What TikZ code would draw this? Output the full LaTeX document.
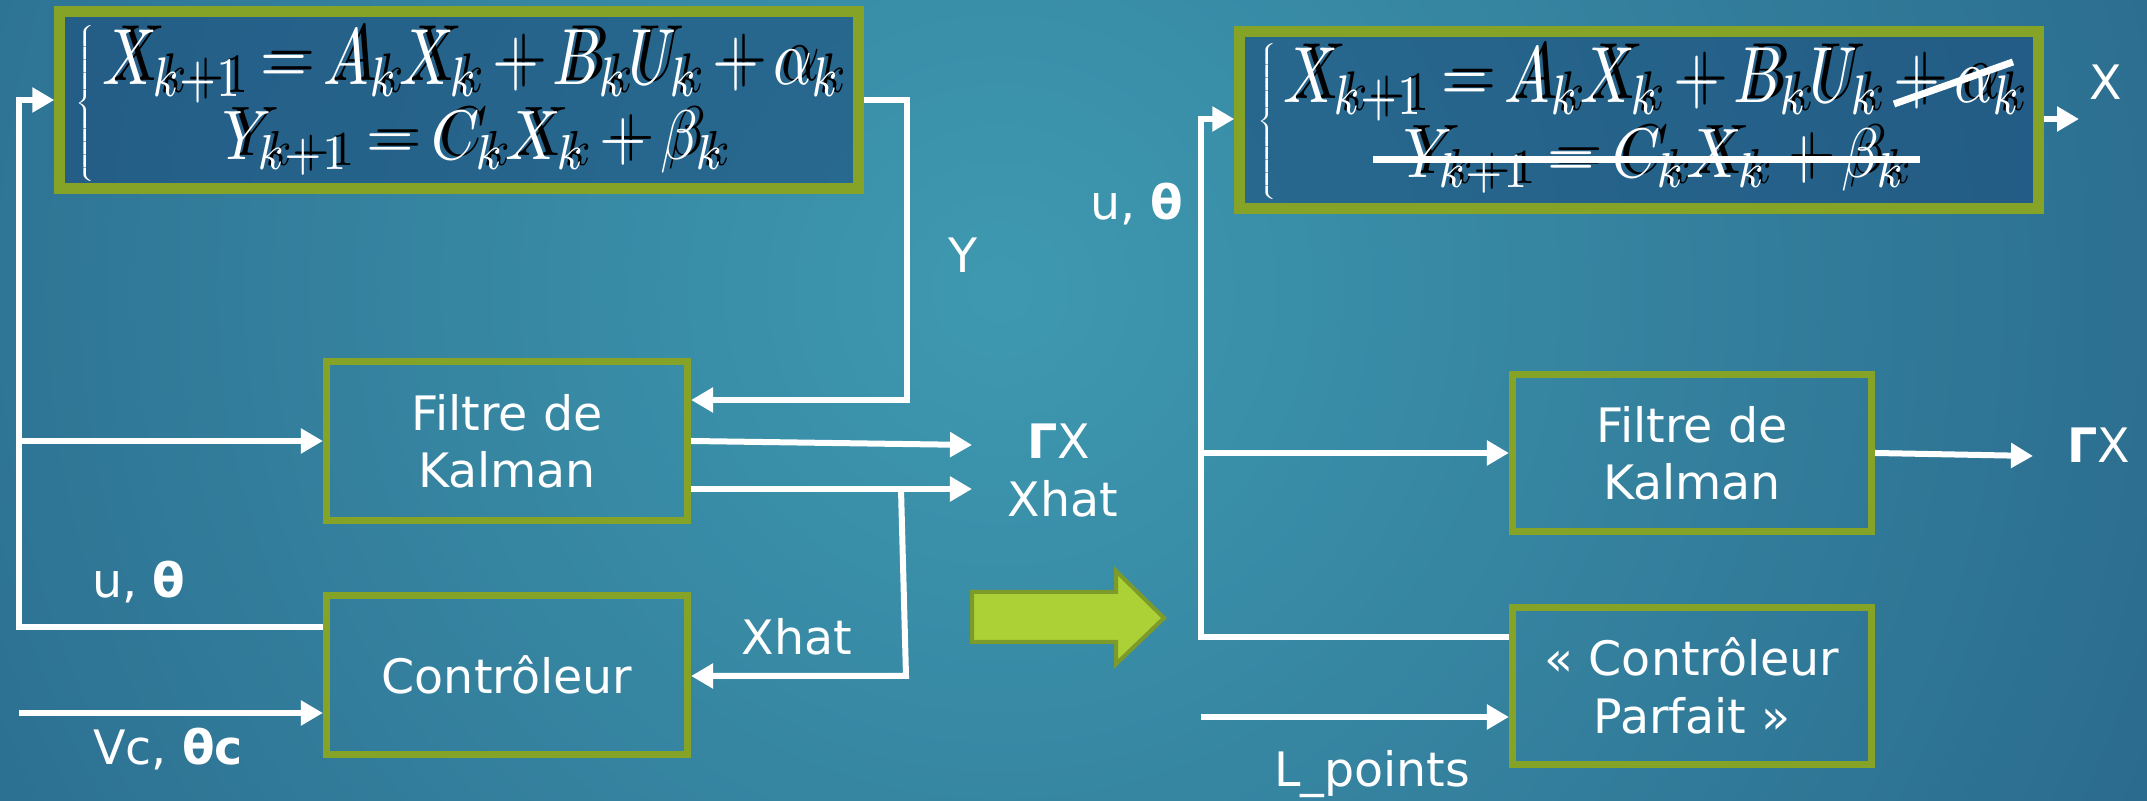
\documentclass[tikz,border=0pt]{standalone}
\usepackage{fontspec}
\setmainfont{DejaVu Sans}
\usepackage{graphicx}
\usetikzlibrary{arrows.meta,calc}
\definecolor{bgin}{RGB}{62,153,176}
\definecolor{bgout}{RGB}{24,62,108}
\definecolor{boxin}{RGB}{28,78,125}
\definecolor{frame}{RGB}{133,163,38}
\definecolor{arrfill}{RGB}{172,209,54}
\definecolor{arrline}{RGB}{125,155,42}
\newcommand{\eqone}{\resizebox*{7.39cm}{0.73cm}{$X_{k+1}=A_kX_k+B_kU_k+\alpha_k$}}
\newcommand{\eqtwo}{\resizebox*{5.03cm}{0.65cm}{$Y_{k+1}=C_kX_k+\beta_k$}}
\newcommand{\eqbrace}{\resizebox*{0.22cm}{1.56cm}{$\left\{\vrule width 0pt height 2cm depth 0pt\right.$}}
\tikzset{
  bx/.style={draw=frame, line width=0.07cm, minimum width=3.61cm, minimum height=1.58cm, text=white, align=center, font=\fontsize{13.5}{16.3}\selectfont},
  eqbox/.style={draw=frame, line width=0.11cm, fill=boxin, fill opacity=0.6, minimum width=7.98cm, minimum height=1.76cm},
  eqwhite/.style={text=white, inner sep=0pt},
  eqblack/.style={text=black, inner sep=0pt},
  wire/.style={draw=white, line width=0.06cm},
  arr/.style={wire, -{Triangle[length=0.22cm,width=0.24cm]}},
  lbl/.style={text=white, inner sep=0pt, font=\fontsize{13.5}{16.3}\selectfont},
  strike/.style={draw=white, line width=0.07cm}
}
\begin{document}
\begin{tikzpicture}[x=0.01cm,y=-0.01cm]
\useasboundingbox (0,0) rectangle (2147,801);
\fill[bgout] (0,0) rectangle (2147,801);
\begin{scope}
\clip (0,0) rectangle (2147,801);
\shade[inner color=bgin, outer color=bgout] (1000,290) circle (2500);
\end{scope}

% ---------- left ----------
\node[eqbox] (eq1) at (459,100) {};
\node[eqblack] (eq1b1) at (480,63) {\eqone};
\node[eqblack] (eq1b2) at (482,139) {\eqtwo};
\node[eqwhite] (eq1br) at (87,103) {\eqbrace};
\node[eqwhite] (eq1l1) at (472,67) {\eqone};
\node[eqwhite] (eq1l2) at (474,143) {\eqtwo};

\node[bx] (filt) at (507,441) {Filtre de\\ Kalman};
\node[bx] (ctrl) at (507,675) {Contrôleur};

\coordinate (a1) at (19,627);
\coordinate (a2) at (19,100);
\draw[arr] (ctrl.west |- a1) -- (a1) -- (a2) -- (eq1.west |- a2);
\draw[arr] (a1 |- filt.west) -- (filt.west);
\coordinate (vc) at (19,713);
\draw[arr] (vc) -- (ctrl.west |- vc);

\coordinate (y1) at (907,100);
\coordinate (y2) at (907,400);
\draw[arr] (eq1.east |- y1) -- (y1) -- (y2) -- (filt.east |- y2);

\coordinate (gxe) at (972,445);
\draw[arr] (filt.east) -- (gxe);
\coordinate (xhe) at (972,489);
\draw[arr] (filt.east |- xhe) -- (xhe);
\coordinate (b1) at (901,489);
\coordinate (b2) at (906,676);
\draw[arr] (b1) -- (b2) -- (ctrl.east |- b2);

\node[lbl] (lu) at (139,582) {u, \textbf{θ}};
\node[lbl] (lvc) at (168,749) {Vc, \textbf{θc}};
\node[lbl] (ly) at (963,255) {Y};
\node[lbl] (lgx) at (1059,441) {\textbf{Γ}X};
\node[lbl] (lxh) at (1063,499) {Xhat};
\node[lbl] (lxh2) at (797,637) {Xhat};

% ---------- big arrow ----------
\draw[fill=arrfill, draw=arrline, line width=0.04cm, line join=miter]
  (972,592) -- (1116,592) -- (1116,571) -- (1164,618) -- (1116,664) -- (1116,642) -- (972,642) -- cycle;

% ---------- right ----------
\node[eqbox] (eq2) at (1639,120) {};
\node[eqblack] (eq2b1) at (1661,81) {\eqone};
\node[eqblack] (eq2b2) at (1663,157) {\eqtwo};
\node[eqwhite] (eq2br) at (1268,121) {\eqbrace};
\node[eqwhite] (eq2l1) at (1653,85) {\eqone};
\node[eqwhite] (eq2l2) at (1655,161) {\eqtwo};
\coordinate (s1) at (1373,160);
\coordinate (s2) at (1920,160);
\draw[strike] (s1) -- (s2);
\coordinate (s3) at (1894,104);
\coordinate (s4) at (2013,62);
\draw[strike] (s3) -- (s4);

\node[bx, minimum width=3.59cm, minimum height=1.57cm] (filt2) at (1692,453) {Filtre de\\ Kalman};
\node[bx, minimum width=3.59cm, minimum height=1.57cm] (cp) at (1692,686) {« Contrôleur\\ Parfait »};

\coordinate (r1) at (1201,119);
\coordinate (r2) at (1201,637);
\draw[arr] (cp.west |- r2) -- (r2) -- (r1) -- (eq2.west |- r1);
\draw[arr] (r1 |- filt2.west) -- (filt2.west);
\coordinate (lp) at (1201,717);
\draw[arr] (lp) -- (cp.west |- lp);
\coordinate (xe) at (2079,119);
\draw[arr] (eq2.east |- xe) -- (xe);
\coordinate (gx2e) at (2033,456);
\draw[arr] (filt2.east) -- (gx2e);

\node[lbl] (lu2) at (1137,204) {u, \textbf{θ}};
\node[lbl] (lx) at (2106,82) {X};
\node[lbl] (lgx2) at (2099,445) {\textbf{Γ}X};
\node[lbl] (llp) at (1372,774) {L\_points};
\end{tikzpicture}
\end{document}
